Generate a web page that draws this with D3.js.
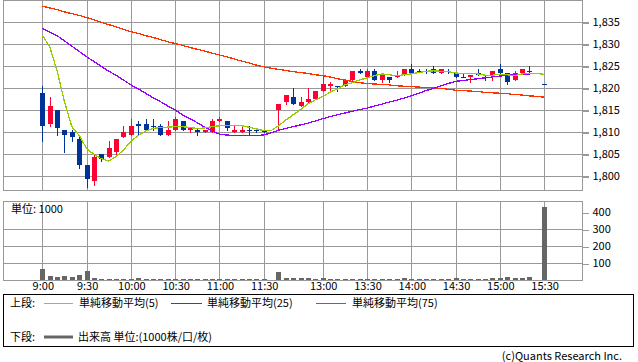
<!DOCTYPE html>
<html>
<head>
<meta charset="utf-8" />
<title>5分足チャート</title>
<script src="https://d3js.org/d3.v7.min.js"></script>
<style>
  body { margin: 0; background: #fff; }
  text { font-family: "Noto Sans CJK JP", "Noto Sans", sans-serif; font-size: 11px; fill: #000; }
</style>
</head>
<body>
<svg id="chart" width="638" height="362"></svg>
<script>

// 5-minute bars, 9:00 .. 15:30 (null = no trade)
var opens = [1819, 1812, 1815, 1810.5, 1810, 1808.5, 1802.5, 1799, 1805, 1804.5,
  1805.5, 1809, 1809.5, 1812, 1812, 1811.5, 1811.5, 1809.5, 1810.5, 1812.5,
  1810.5, 1810.5, 1810, 1810, 1812.5, 1812.5, 1810, 1810, 1810.5, 1810.5,
  1810.5, null, 1815, 1817, 1818, 1816, 1817, 1817.5, 1819.5, 1820.5,
  1820.5, 1820.5, 1822, 1824, 1822.5, 1824, 1822, 1822.5, 1822.5, 1823,
  1824.5, 1824, 1824, 1824.5, 1823.5, 1824, 1823.5, 1822.5, 1822.5, 1823.5,
  1822.5, 1823, 1824.5, 1823.5, 1822, 1823.5, 1824, null, 1821];
var highs = [1820.5, 1818, 1815, 1810.5, 1810.5, 1809, 1802.5, 1805, 1805, 1808,
  1808.5, 1811.5, 1813, 1812.5, 1813, 1813, 1812, 1812.5, 1813.5, 1812.5,
  1811, 1811, 1810.5, 1813, 1813.5, 1812.5, 1811.5, 1811.5, 1811.5, 1811,
  1810.5, null, 1816.5, 1818.5, 1820, 1818, 1820, 1819.5, 1823, 1821.5,
  1820.5, 1822, 1824, 1824.5, 1824.5, 1824.5, 1823, 1822.5, 1824, 1824.5,
  1825.5, 1824.5, 1824.5, 1825, 1824.5, 1824.5, 1823.5, 1823.5, 1823, 1824.5,
  1823, 1824, 1825.5, 1823.5, 1824, 1824.5, 1825, null, 1821];
var lows = [1808, 1811.5, 1809.5, 1805.5, 1808, 1802, 1797.5, 1798, 1803.5, 1804.5,
  1805, 1809, 1809.5, 1809.5, 1810.5, 1810.5, 1809.5, 1809.5, 1810.5, 1810.5,
  1810, 1809.5, 1810, 1810, 1812.5, 1810.5, 1810, 1810, 1809.5, 1810,
  1810, null, 1811, 1816.5, 1816.5, 1816, 1817, 1817.5, 1819.5, 1819.5,
  1819.5, 1820.5, 1822, 1823.5, 1822.5, 1822, 1821.5, 1821.5, 1822.5, 1823,
  1823.5, 1824, 1823.5, 1823.5, 1823.5, 1823.5, 1822.5, 1822.5, 1821.5, 1823,
  1822, 1822, 1823.5, 1821, 1822, 1823.5, 1823.5, null, 1821];
var closes = [1811.5, 1816, 1811, 1809.5, 1809, 1802.5, 1799.5, 1804.5, 1804, 1806.5,
  1808.5, 1810, 1811.5, 1811.5, 1810.5, 1811.5, 1809.5, 1810.5, 1813, 1810.5,
  1811, 1810, 1810.5, 1812.5, 1813, 1811, 1810.5, 1810.5, 1810.5, 1810.5,
  1810, null, 1816.5, 1818.5, 1816.5, 1817, 1817.5, 1819.5, 1821, 1821,
  1820.5, 1822, 1824, 1823.5, 1824, 1822, 1823, 1822, 1823, 1824.5,
  1823.5, 1824, 1824, 1823.5, 1824.5, 1824, 1822.5, 1822.5, 1823, 1823,
  1822.5, 1824, 1823.5, 1821.5, 1823.5, 1824.5, 1824, null, 1821];
// volume, 1000 shares
var volumes = [65, 24, 18, 24, 18, 30, 53, 12, 6, 6,
  6, 6, 6, 12, 6, 3, 6, 6, 6, 6,
  3, 3, 6, 3, 6, 6, 3, 6, 3, 3,
  3, 0, 49, 14, 14, 12, 12, 3, 12, 6,
  6, 6, 6, 6, 3, 6, 6, 3, 3, 12,
  6, 3, 6, 6, 3, 6, 12, 6, 6, 6,
  6, 12, 12, 18, 12, 12, 18, 0, 430];
var sma5 = [1832.1, 1829.5, 1824, 1817, 1811.3, 1809.3, 1806.3, 1805, 1804, 1803.5,
  1804.5, 1806, 1808, 1809.3, 1810.3, 1810.9, 1811.1, 1811.2, 1811.3, 1811.3,
  1811.1, 1810.9, 1811.0, 1811.3, 1811.5, 1811.6, 1811.6, 1811.5, 1811.2, 1810.8,
  1810.4, 1810.4, 1811.5, 1812.8, 1814, 1815.2, 1816.5, 1817.4, 1818.2, 1819.1,
  1819.9, 1820.8, 1821.3, 1821.9, 1822.4, 1822.9, 1823.3, 1823.1, 1822.9, 1823.1,
  1823.3, 1823.6, 1823.9, 1824.0, 1823.9, 1823.8, 1823.5, 1823.4, 1823.4, 1823.3,
  1823.0, 1823.0, 1823.2, 1823.1, 1822.9, 1823.3, 1823.4, 1823.4, 1823.2];
var sma25 = [1833.6, 1832.8, 1832.0, 1830.8, 1829.6, 1828.4, 1827.2, 1826.1, 1825.0, 1823.9,
  1823.0, 1821.9, 1820.8, 1819.9, 1818.9, 1817.9, 1817.0, 1816.0, 1815.1, 1814.0,
  1813.1, 1812.2, 1811.2, 1810.3, 1809.6, 1809.4, 1809.3, 1809.3, 1809.3, 1809.3,
  1809.4, 1809.9, 1810.5, 1810.9, 1811.3, 1811.7, 1812.1, 1812.6, 1813.1, 1813.6,
  1814.0, 1814.4, 1814.8, 1815.2, 1815.5, 1816.0, 1816.4, 1816.9, 1817.3, 1817.8,
  1818.3, 1818.9, 1819.5, 1820.0, 1820.6, 1821.1, 1821.6, 1821.8, 1822.0, 1822.2,
  1822.4, 1822.6, 1822.8, 1823.0, 1823.1, 1823.2, 1823.3, 1823.4, 1823.2];
var sma75 = [1838.7, 1838.3, 1837.9, 1837.4, 1837.0, 1836.6, 1836.1, 1835.6, 1835.0, 1834.5,
  1834.0, 1833.4, 1832.9, 1832.5, 1832.0, 1831.6, 1831.1, 1830.6, 1830.2, 1829.8,
  1829.3, 1828.9, 1828.5, 1828.0, 1827.6, 1827.2, 1826.7, 1826.2, 1825.8, 1825.3,
  1824.9, 1824.6, 1824.3, 1824.1, 1823.8, 1823.6, 1823.4, 1823.1, 1822.9, 1822.6,
  1822.2, 1821.9, 1821.6, 1821.3, 1821.1, 1821.0, 1820.9, 1820.8, 1820.6, 1820.5,
  1820.4, 1820.3, 1820.2, 1820.1, 1820.0, 1819.8, 1819.6, 1819.5, 1819.4, 1819.3,
  1819.1, 1819.0, 1818.9, 1818.8, 1818.6, 1818.5, 1818.3, 1818.2, 1818.0];

var tickIndex = [0, 6, 12, 18, 24, 30, 38, 44, 50, 56, 62, 68];
var tickLabels = ["9:00", "9:30", "10:00", "10:30", "11:00", "11:30",
  "13:00", "13:30", "14:00", "14:30", "15:00", "15:30"];
var priceTicks = [1800, 1805, 1810, 1815, 1820, 1825, 1830, 1835];
var volumeTicks = [100, 200, 300, 400];
var volumeGrid = [100, 200, 300];

var upColor = "#ff0033";
var downColor = "#003399";
var gridColor = "#999999";

var panel = { left: 3.5, right: 582.5 };
var upper = { top: 0.5, bottom: 190.5 };
var lower = { top: 201.5, bottom: 280.5 };

var svg = d3.select("#chart");

var x = d3.scaleLinear().domain([0, 68]).range([42.3, 544.1]);
var px = function(i) { return Math.round(x(i)); };

var y = d3.scaleLinear().domain([1796.9, 1840.1]).range([190, 0]);
var yv = d3.scaleLinear().domain([0, 463]).range([280, 201.7]);

var bars = d3.range(opens.length).map(function(i) {
  return { i: i, o: opens[i], h: highs[i], l: lows[i], c: closes[i], v: volumes[i] };
});

// grid
var grid = svg.append("g").attr("shape-rendering", "crispEdges")
  .attr("stroke", gridColor).attr("stroke-width", 1);

grid.selectAll(".hp").data(priceTicks).enter().append("line")
  .attr("x1", panel.left).attr("x2", panel.right + 6)
  .attr("y1", function(d) { return Math.round(y(d)) + 0.5; })
  .attr("y2", function(d) { return Math.round(y(d)) + 0.5; });

grid.selectAll(".hv").data(volumeGrid).enter().append("line")
  .attr("x1", panel.left).attr("x2", panel.right)
  .attr("y1", function(d) { return Math.round(yv(d)) + 0.5; })
  .attr("y2", function(d) { return Math.round(yv(d)) + 0.5; });

[upper, lower].forEach(function(p) {
  grid.selectAll(null).data(tickIndex).enter().append("line")
    .attr("x1", function(d) { return px(d) + 0.5; })
    .attr("x2", function(d) { return px(d) + 0.5; })
    .attr("y1", p.top).attr("y2", p.bottom);
  grid.append("rect")
    .attr("x", panel.left).attr("y", p.top)
    .attr("width", panel.right - panel.left).attr("height", p.bottom - p.top)
    .attr("fill", "none");
});

// axes on the right
var yAxis = d3.axisRight(y).tickValues(priceTicks).tickSize(6).tickPadding(4)
  .tickFormat(d3.format(","));
var yAxisG = svg.append("g").attr("transform", "translate(" + panel.right + ",0)").call(yAxis);

var vAxis = d3.axisRight(yv).tickValues(volumeTicks).tickSize(6).tickPadding(4);
var vAxisG = svg.append("g").attr("transform", "translate(" + panel.right + ",0)").call(vAxis);

var xAxis = d3.axisBottom(x).tickValues(tickIndex).tickSize(0).tickPadding(2)
  .tickFormat(function(d, i) { return tickLabels[i]; });
var xAxisG = svg.append("g").attr("transform", "translate(0.5,280)").call(xAxis);

[yAxisG, vAxisG, xAxisG].forEach(function(g) {
  g.attr("font-family", null).attr("font-size", null);
  g.select(".domain").remove();
  g.selectAll(".tick line").attr("stroke", gridColor).attr("shape-rendering", "crispEdges");
  g.selectAll("text").attr("fill", "#000");
});
vAxisG.selectAll(".tick line").attr("transform", "translate(0,0.5)");
yAxisG.selectAll(".tick line").attr("transform", "translate(0,0.5)");

svg.append("text").attr("x", 11).attr("y", 213).text("単位: 1000");

// volume bars
svg.append("g").attr("shape-rendering", "crispEdges")
  .selectAll("rect").data(bars.filter(function(d) { return d.v > 0; }))
  .enter().append("rect")
  .attr("x", function(d) { return px(d.i) - 2; })
  .attr("width", 5)
  .attr("y", function(d) { return Math.round(yv(d.v)); })
  .attr("height", function(d) { return 280 - Math.round(yv(d.v)); })
  .attr("fill", "#666666");

// candles
var traded = bars.filter(function(d) { return d.o != null; });
var candles = svg.append("g").attr("shape-rendering", "crispEdges")
  .selectAll("g").data(traded).enter().append("g");

function colorOf(d) { return d.c > d.o ? upColor : downColor; }

candles.append("line")
  .attr("x1", function(d) { return px(d.i) + 0.5; })
  .attr("x2", function(d) { return px(d.i) + 0.5; })
  .attr("y1", function(d) { return Math.round(y(d.h)); })
  .attr("y2", function(d) { return Math.round(y(d.l)) + 1; })
  .attr("stroke", colorOf);

candles.append("rect")
  .attr("x", function(d) { return px(d.i) - 2; })
  .attr("width", 5)
  .attr("y", function(d) { return Math.round(y(Math.max(d.o, d.c))); })
  .attr("height", function(d) {
    return Math.max(1, Math.round(y(Math.min(d.o, d.c))) - Math.round(y(Math.max(d.o, d.c))));
  })
  .attr("fill", colorOf);

// moving averages
var maLine = d3.line()
  .x(function(d, i) { return x(i); })
  .y(function(d) { return y(d); });

var maSeries = [
  { values: sma75, color: "#ff3300" },
  { values: sma25, color: "#9900ff" },
  { values: sma5, color: "#99cc00" }
];
svg.append("g").selectAll("path").data(maSeries).enter().append("path")
  .attr("d", function(d) { return maLine(d.values); })
  .attr("fill", "none")
  .attr("stroke", function(d) { return d.color; })
  .attr("stroke-width", 1.3)
  .attr("shape-rendering", "crispEdges");

// legend
var legend = svg.append("g");
legend.append("rect").attr("x", 3.5).attr("y", 294.5).attr("width", 630).attr("height", 52)
  .attr("fill", "none").attr("stroke", "#000").attr("shape-rendering", "crispEdges");

var legendItems = [
  { label: "単純移動平均(5)", color: "#99cc00", x1: 44, x2: 73, tx: 79 },
  { label: "単純移動平均(25)", color: "#9900ff", x1: 171, x2: 202, tx: 207 },
  { label: "単純移動平均(75)", color: "#ff3300", x1: 316, x2: 346, tx: 352 }
];
legend.append("text").attr("x", 10).attr("y", 307).text("上段:");
legendItems.forEach(function(d) {
  legend.append("line").attr("x1", d.x1).attr("x2", d.x2).attr("y1", 303.5).attr("y2", 303.5)
    .attr("stroke", d.color).attr("stroke-width", 1);
  legend.append("text").attr("x", d.tx).attr("y", 307).text(d.label);
});

legend.append("text").attr("x", 10).attr("y", 341).text("下段:");
legend.append("line").attr("x1", 44).attr("x2", 73).attr("y1", 337).attr("y2", 337)
  .attr("stroke", "#666666").attr("stroke-width", 3);
legend.append("text").attr("x", 78).attr("y", 341).text("出来高 単位:(1000株/口/枚)");

svg.append("text").attr("x", 622).attr("y", 360).attr("text-anchor", "end")
  .attr("fill", "#333").text("(c)Quants Research Inc.");

</script>
</body>
</html>
